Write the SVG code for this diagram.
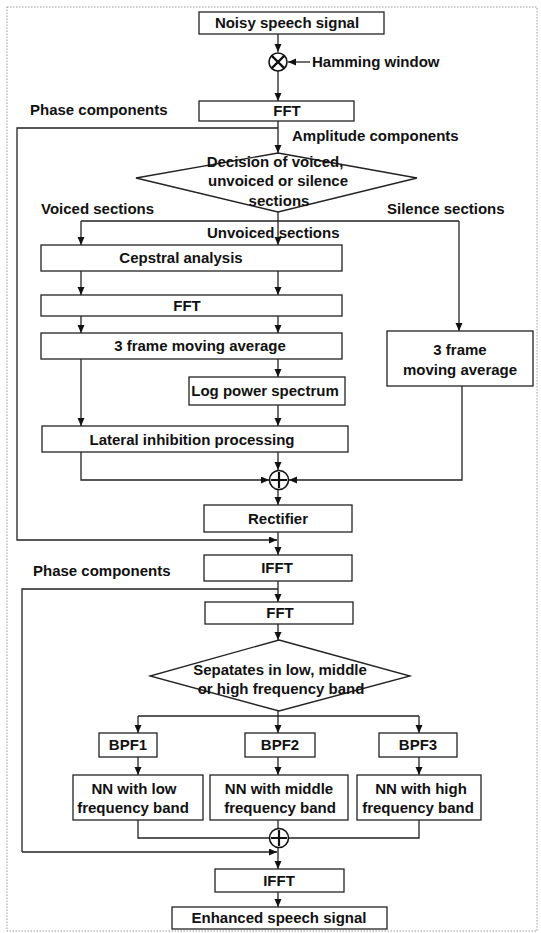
<svg xmlns="http://www.w3.org/2000/svg" width="541" height="933" viewBox="0 0 541 933">
<style>
.bg{fill:#fff}
.frame{fill:none;stroke:#999;stroke-width:1;stroke-dasharray:1.5,1.5}
.box{fill:#fff;stroke:#222;stroke-width:1.3}
.dia{fill:#fff;stroke:#222;stroke-width:1.3}
.t{font-family:"Liberation Sans",Arial,sans-serif;font-weight:bold;font-size:15px;fill:#111}
.m{text-anchor:middle}
.ln{fill:none;stroke:#222;stroke-width:1.3}
.ar{fill:none;stroke:#222;stroke-width:1.3;marker-end:url(#ah)}
.op{fill:#fff;stroke:#111;stroke-width:1.6}
.opx{stroke:#111;stroke-width:2.2}
</style>
<defs>
<marker id="ah" markerUnits="userSpaceOnUse" markerWidth="9" markerHeight="8" refX="8" refY="3.5" orient="auto">
<path d="M0,0 L8,3.5 L0,7 z" fill="#111"/>
</marker>
</defs>
<rect class="bg" x="0" y="0" width="541" height="933"/>
<rect class="frame" x="7" y="7" width="530" height="924"/>

<g id="connectors">
<path class="ar" d="M278,34 V52"/>
<path class="ar" d="M310,62 H288"/>
<path class="ar" d="M278,71 V101"/>
<path class="ar" d="M278,121 V153"/>
<path class="ar" d="M278,128 H17 V540 H277"/>
<path class="ln" d="M81,221 H459"/>
<path class="ar" d="M278,212 V245"/>
<path class="ar" d="M81,221 V245"/>
<path class="ar" d="M459,221 V331"/>
<path class="ar" d="M81,271 V295"/>
<path class="ar" d="M278,271 V295"/>
<path class="ar" d="M81,316 V333"/>
<path class="ar" d="M278,316 V333"/>
<path class="ar" d="M81,359 V426"/>
<path class="ar" d="M278,359 V377"/>
<path class="ar" d="M278,405 V426"/>
<path class="ar" d="M81,452 V480 H269"/>
<path class="ar" d="M278,452 V470"/>
<path class="ar" d="M462,386 V480 H289"/>
<path class="ar" d="M278,490 V505"/>
<path class="ar" d="M278,532 V555"/>
<path class="ar" d="M278,581 V602"/>
<path class="ln" d="M278,589 H22 V852"/>
<path class="ar" d="M22,852 H277"/>
<path class="ar" d="M278,624 V640"/>
<path class="ln" d="M138,716 H419"/>
<path class="ar" d="M278,711 V733"/>
<path class="ar" d="M138,716 V733"/>
<path class="ar" d="M419,716 V733"/>
<path class="ar" d="M138,757 V775"/>
<path class="ar" d="M278,757 V775"/>
<path class="ar" d="M419,757 V775"/>
<path class="ln" d="M138,820 V838 H269"/>
<path class="ln" d="M278,820 V829"/>
<path class="ln" d="M419,820 V838 H288"/>
<path class="ar" d="M278,848 V869"/>
<path class="ar" d="M278,892 V907"/>
</g>

<g id="noisy">
<rect class="box" x="199" y="12" width="185" height="22"/>
<text class="t m" x="287" y="28">Noisy speech signal</text>
</g>
<g id="multiply">
<circle class="op" cx="278" cy="62" r="9"/>
<path class="opx" d="M271.6,55.6 L284.4,68.4 M284.4,55.6 L271.6,68.4"/>
</g>
<g id="hamming">
<text class="t" x="312" y="67">Hamming window</text>
</g>
<g id="fft1">
<rect class="box" x="199" y="101" width="155" height="20"/>
<text class="t m" x="287" y="116">FFT</text>
</g>
<g id="label-phase1"><text class="t" x="30" y="115">Phase components</text></g>
<g id="label-amp"><text class="t" x="292" y="141">Amplitude components</text></g>
<g id="decision">
<polygon class="dia" points="278,153 417,178 278,212 136,178"/>
<text class="t m" x="275" y="167">Decision of voiced,</text>
<text class="t m" x="278" y="186">unvoiced or silence</text>
<text class="t m" x="279" y="206">sections</text>
</g>
<g id="label-voiced"><text class="t" x="41" y="214">Voiced sections</text></g>
<g id="label-silence"><text class="t" x="387" y="214">Silence sections</text></g>
<g id="label-unvoiced"><text class="t" x="207" y="238">Unvoiced sections</text></g>
<g id="cepstral">
<rect class="box" x="41" y="245" width="301" height="26"/>
<text class="t m" x="181" y="263">Cepstral analysis</text>
</g>
<g id="fft2">
<rect class="box" x="41" y="295" width="301" height="21"/>
<text class="t m" x="187" y="311">FFT</text>
</g>
<g id="avg1">
<rect class="box" x="41" y="333" width="301" height="26"/>
<text class="t m" x="200" y="351">3 frame moving average</text>
</g>
<g id="logpower">
<rect class="box" x="189" y="377" width="156" height="28"/>
<text class="t m" x="265" y="396">Log power spectrum</text>
</g>
<g id="lateral">
<rect class="box" x="42" y="426" width="306" height="26"/>
<text class="t m" x="192" y="445">Lateral inhibition processing</text>
</g>
<g id="avg2">
<rect class="box" x="387" y="331" width="146" height="55"/>
<text class="t m" x="460" y="355">3 frame</text>
<text class="t m" x="460" y="375">moving average</text>
</g>
<g id="sum1">
<circle class="op" cx="279" cy="480" r="9.5"/>
<path class="opx" d="M279,472 V488 M271,480 H287"/>
</g>
<g id="rectifier">
<rect class="box" x="204" y="505" width="148" height="27"/>
<text class="t m" x="278" y="524">Rectifier</text>
</g>
<g id="ifft1">
<rect class="box" x="204" y="555" width="148" height="26"/>
<text class="t m" x="277" y="573">IFFT</text>
</g>
<g id="label-phase2"><text class="t" x="33" y="576">Phase components</text></g>
<g id="fft3">
<rect class="box" x="205" y="602" width="148" height="22"/>
<text class="t m" x="280" y="618">FFT</text>
</g>
<g id="separate">
<polygon class="dia" points="279,640 410,676 279,711 150,676"/>
<text class="t m" x="280" y="675">Sepatates in low, middle</text>
<text class="t m" x="281" y="694">or high frequency band</text>
</g>
<g id="bpf1">
<rect class="box" x="99" y="733" width="58" height="24"/>
<text class="t m" x="128" y="750">BPF1</text>
</g>
<g id="bpf2">
<rect class="box" x="245" y="733" width="70" height="24"/>
<text class="t m" x="280" y="750">BPF2</text>
</g>
<g id="bpf3">
<rect class="box" x="379" y="733" width="78" height="24"/>
<text class="t m" x="418" y="750">BPF3</text>
</g>
<g id="nn-low">
<rect class="box" x="73" y="775" width="130" height="45"/>
<text class="t m" x="134" y="794">NN with low</text>
<text class="t m" x="133" y="813">frequency band</text>
</g>
<g id="nn-middle">
<rect class="box" x="210" y="775" width="138" height="45"/>
<text class="t m" x="279" y="794">NN with middle</text>
<text class="t m" x="280" y="813">frequency band</text>
</g>
<g id="nn-high">
<rect class="box" x="357" y="775" width="124" height="45"/>
<text class="t m" x="421" y="794">NN with high</text>
<text class="t m" x="418" y="813">frequency band</text>
</g>
<g id="sum2">
<circle class="op" cx="279" cy="838" r="9.5"/>
<path class="opx" d="M279,830 V846 M271,838 H287"/>
</g>
<g id="ifft2">
<rect class="box" x="215" y="869" width="129" height="23"/>
<text class="t m" x="279" y="886">IFFT</text>
</g>
<g id="enhanced">
<rect class="box" x="172" y="907" width="215" height="22"/>
<text class="t m" x="279" y="923">Enhanced speech signal</text>
</g>
</svg>
